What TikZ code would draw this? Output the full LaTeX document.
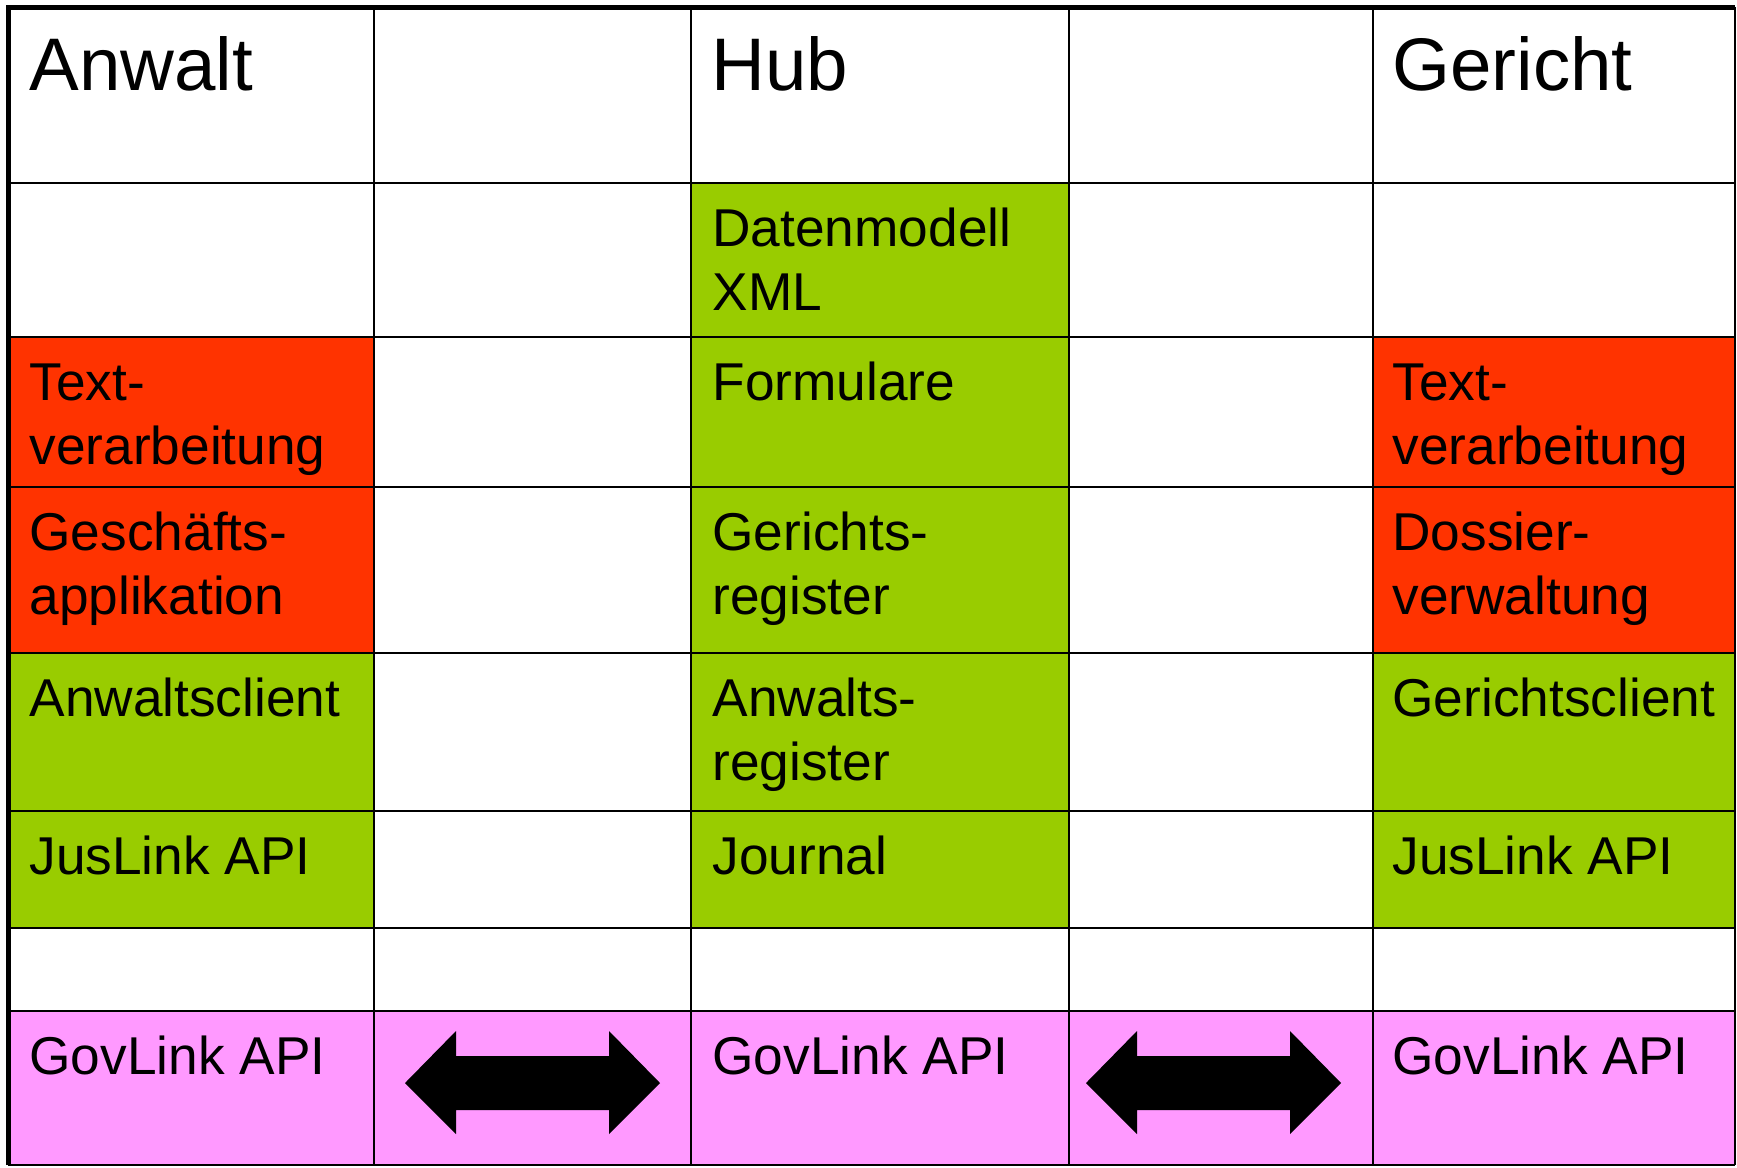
\documentclass[tikz,border=0pt]{standalone}
\usepackage{fontspec}
\setmainfont{Liberation Sans}
\usepackage{tikz}

\definecolor{rot}{HTML}{FF3300}
\definecolor{gruen}{HTML}{99CC00}
\definecolor{rosa}{HTML}{FF99FF}

\tikzset{
  cell/.style={anchor=base west, inner sep=0pt, align=left,
    font=\fontsize{21.3}{25.6}\selectfont},
  head/.style={anchor=base west, inner sep=0pt,
    font=\fontsize{29.8}{36}\selectfont},
  grid/.style={line width=0.5pt}
}

\begin{document}
\begin{tikzpicture}[x=0.4pt,y=-0.4pt]
     \useasboundingbox (0,0) rectangle (1737,1167);
     \fill[white] (0,0) rectangle (1737,1167);
     % fills
     \fill[gruen] (691,183) rectangle (1069,928);
     \fill[rot] (8,337) rectangle (374,653);
     \fill[rot] (1373,337) rectangle (1735,653);
     \fill[gruen] (8,653) rectangle (374,928);
     \fill[gruen] (1373,653) rectangle (1735,928);
     \fill[rosa] (8,1011) rectangle (1735,1165);
     % grid
     \foreach \y in {183,337,487,653,811,928,1011,1165}
       \draw[grid] (8,\y) -- (1735,\y);
     \foreach \x in {374,691,1069,1373,1735}
       \draw[grid] (\x,7) -- (\x,1165);
     \draw[line width=2pt] (8,1165) -- (8,7) -- (1735,7);
     % arrows
     \foreach \ax in {405,1086}
       \fill[black] (\ax,1083) -- (\ax+51,1031) -- (\ax+51,1056) -- (\ax+204,1056)
         -- (\ax+204,1031) -- (\ax+255,1083) -- (\ax+204,1134) -- (\ax+204,1110)
         -- (\ax+51,1110) -- (\ax+51,1134) -- cycle;
     % texts (two-line nodes sit on their second baseline)
     \node[head] (anwalt) at (29,90) {Anwalt};
     \node[head] (hub) at (711,90) {Hub};
     \node[head] (gericht) at (1392,90) {Gericht};
     \node[cell] (datenmodell) at (712,310) {Datenmodell\\XML};
     \node[cell] (textA) at (29,464) {Text-\\verarbeitung};
     \node[cell] (formulare) at (712,400) {Formulare};
     \node[cell] (textG) at (1392,464) {Text-\\verarbeitung};
     \node[cell] (geschaeft) at (29,614) {Geschäfts-\\applikation};
     \node[cell] (gerichtsreg) at (712,614) {Gerichts-\\register};
     \node[cell] (dossier) at (1392,614) {Dossier-\\verwaltung};
     \node[cell] (aclient) at (29,716) {Anwaltsclient};
     \node[cell] (anwaltsreg) at (712,780) {Anwalts-\\register};
     \node[cell] (gclient) at (1392,716) {Gerichtsclient};
     \node[cell] (juslinkA) at (29,874) {JusLink API};
     \node[cell] (journal) at (712,874) {Journal};
     \node[cell] (juslinkG) at (1392,874) {JusLink API};
     \node[cell] (govA) at (29,1074) {GovLink API};
     \node[cell] (govH) at (712,1074) {GovLink API};
     \node[cell] (govG) at (1392,1074) {GovLink API};
    \end{tikzpicture}
\end{document}
